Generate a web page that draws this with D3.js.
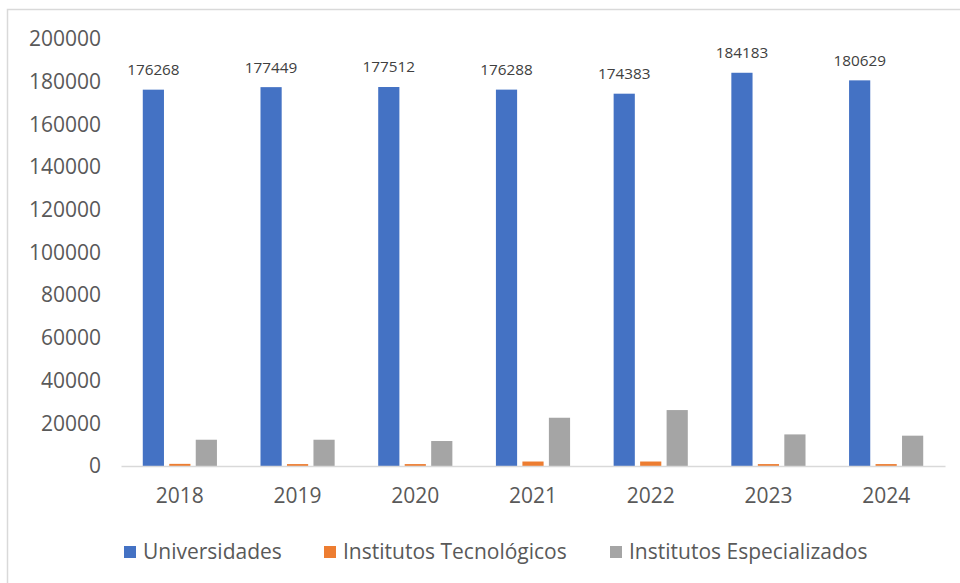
<!DOCTYPE html>
<html>
<head>
<meta charset="utf-8">
<script src="https://cdn.jsdelivr.net/npm/d3@7"></script>
<style>
  html, body { margin: 0; padding: 0; background: #fff; }
  svg { display: block; }
</style>
</head>
<body>
<div id="chart"></div>
<script>
const years = ['2018', '2019', '2020', '2021', '2022', '2023', '2024'];
const seriesNames = ['Universidades', 'Institutos Tecnológicos', 'Institutos Especializados'];
const universidades = [176268, 177449, 177512, 176288, 174383, 184183, 180629];
const tecnologicos = [1000, 900, 900, 2100, 2100, 900, 900];
const especializados = [12300, 12300, 11700, 22600, 26200, 14800, 14200];
const seriesColors = ['#4472c4', '#ed7d31', '#a5a5a5'];
const yTicks = [0, 20000, 40000, 60000, 80000, 100000, 120000, 140000, 160000, 180000, 200000];

const width = 960, height = 583;
const font = "'Open Sans', 'Liberation Sans', sans-serif";

const svg = d3.select('#chart').append('svg')
  .attr('width', width)
  .attr('height', height);

// chart frame (only top and left edges visible in the crop)
svg.append('rect')
  .attr('x', 7.5).attr('y', 9.5)
  .attr('width', 1000).attr('height', 1000)
  .attr('fill', 'none')
  .attr('stroke', '#d9d9d9')
  .attr('stroke-width', 1.5);

const x0 = d3.scaleBand()
  .domain(years)
  .range([121, 945])
  .paddingInner(0.37)
  .paddingOuter(0.185);

const x1 = d3.scaleBand()
  .domain(seriesNames)
  .range([0, x0.bandwidth()])
  .paddingInner(0.2);

const y = d3.scaleLinear()
  .domain([0, 200000])
  .range([466, 39]);

const values = [universidades, tecnologicos, especializados];
const rows = years.map((yr, i) => ({
  year: yr,
  items: seriesNames.map((s, j) => ({ series: s, value: values[j][i], color: seriesColors[j] }))
}));

// y axis labels
const yAxis = svg.append('g')
  .attr('transform', 'translate(101,0)')
  .call(d3.axisLeft(y).tickValues(yTicks).tickSize(0).tickPadding(0).tickFormat(d3.format('d')));
yAxis.select('.domain').remove();
yAxis.selectAll('text')
  .attr('font-family', font)
  .attr('font-size', '21px')
  .attr('fill', '#595959');

// bars
const groups = svg.append('g')
  .selectAll('g')
  .data(rows)
  .join('g')
  .attr('transform', d => `translate(${x0(d.year)},0)`);

groups.selectAll('rect')
  .data(d => d.items)
  .join('rect')
  .attr('x', d => x1(d.series))
  .attr('y', d => y(d.value))
  .attr('width', x1.bandwidth())
  .attr('height', d => y(0) - y(d.value))
  .attr('fill', d => d.color);

// data labels for Universidades
groups.append('text')
  .attr('x', d => x1(seriesNames[0]) + x1.bandwidth() / 2)
  .attr('y', d => y(d.items[0].value) - 20)
  .attr('dy', '0.35em')
  .attr('text-anchor', 'middle')
  .attr('font-family', font)
  .attr('font-size', '15.3px')
  .attr('fill', '#404040')
  .text(d => d.items[0].value);

// x axis
const xAxis = svg.append('g')
  .attr('transform', `translate(0,${y(0)})`)
  .call(d3.axisBottom(x0).tickSize(0).tickPadding(22));
xAxis.select('.domain')
  .attr('stroke', '#d9d9d9')
  .attr('stroke-width', 1.5);
xAxis.selectAll('text')
  .attr('font-family', font)
  .attr('font-size', '21px')
  .attr('fill', '#595959');

// legend
const legendX = [124, 324, 610];
const legend = svg.append('g')
  .selectAll('g')
  .data(seriesNames)
  .join('g')
  .attr('transform', (d, i) => `translate(${legendX[i]},552)`);
legend.append('rect')
  .attr('x', 0).attr('y', -6)
  .attr('width', 12).attr('height', 12)
  .attr('fill', (d, i) => seriesColors[i]);
legend.append('text')
  .attr('x', 19)
  .attr('dy', '0.35em')
  .attr('font-family', font)
  .attr('font-size', '21px')
  .attr('fill', '#595959')
  .text(d => d);
</script>
</body>
</html>
